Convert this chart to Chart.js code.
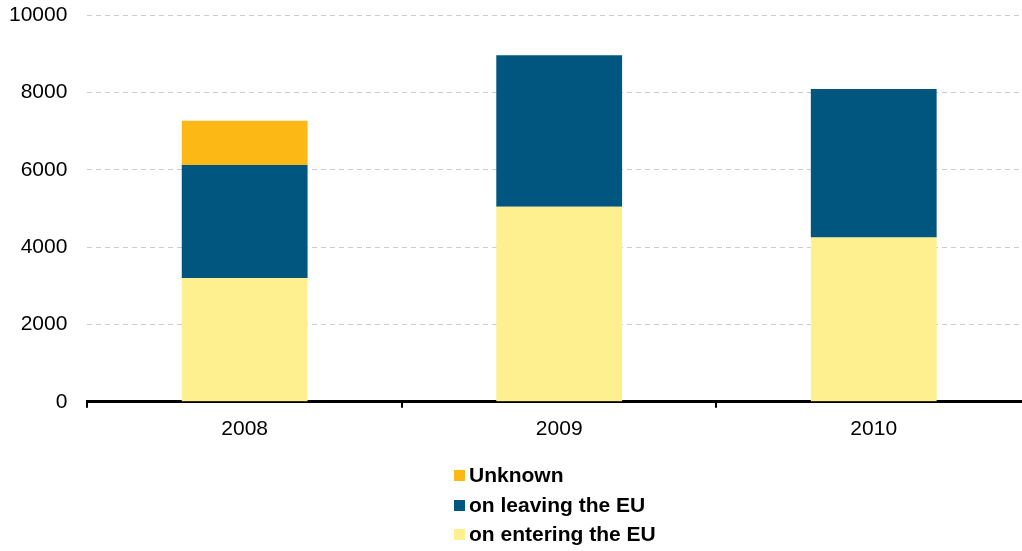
<!DOCTYPE html>
<html>
<head>
<meta charset="utf-8">
<script src="https://cdn.jsdelivr.net/npm/chart.js@4/dist/chart.umd.min.js"></script>
<style>
    body { margin: 0; overflow: hidden; background: #fff; }
    #wrap { position: relative; width: 1040px; height: 551px; }
    #legend { position: absolute; left: 454px; top: 462px; font-family: "Liberation Sans", Arial, sans-serif; font-weight: bold; font-size: 21px; color: #000; }
    #legend div { height: 29.5px; line-height: 26px; white-space: nowrap; }
    #legend span.box { display: inline-block; width: 11px; height: 11px; margin-right: 4px; vertical-align: 1px; }
</style>
</head>
<body>
<div id="wrap">
    <canvas id="myChart" width="1040" height="551"></canvas>
    <div id="legend"></div>
</div>
<script>
const years = ['2008', '2009', '2010'];

const entering = [3200, 5040, 4245];
const leaving = [2925, 3920, 3845];
const unknown = [1140, 0, 0];

const yTicks = [0, 2000, 4000, 6000, 8000, 10000];

const data = {
    labels: years,
    datasets: [{
            label: 'on entering the EU',
            backgroundColor: '#FFF08F',
            data: entering,
        },
        {
            label: 'on leaving the EU',
            backgroundColor: '#00567F',
            data: leaving,
        },
        {
            label: 'Unknown',
            backgroundColor: '#FCB814',
            data: unknown,
        }
    ]
};

const tickFont = { family: '"Liberation Sans", Arial, sans-serif', size: 21 };

const config = {
    type: 'bar',
    data: data,
    options: {
        responsive: false,
        animation: false,
        barPercentage: 0.4,
        categoryPercentage: 1,
        layout: {
            padding: { left: 9, right: 9, top: 15, bottom: 100 }
        },
        plugins: {
            legend: { display: false },
            tooltip: { enabled: false }
        },
        scales: {
            x: {
                stacked: true,
                grid: {
                    offset: true,
                    drawOnChartArea: false,
                    color: '#000',
                    lineWidth: 2,
                    tickLength: 6
                },
                border: { color: '#000', width: 3 },
                ticks: { color: '#000', font: tickFont, padding: 9 }
            },
            y: {
                stacked: true,
                min: 0,
                max: 10000,
                afterBuildTicks: function (axis) {
                    axis.ticks = yTicks.map(v => ({ value: v }));
                },
                grid: {
                    color: '#cccccc',
                    lineWidth: 1,
                    drawTicks: true,
                    tickLength: 20,
                    tickColor: 'rgba(0,0,0,0)'
                },
                border: { display: false, dash: [5, 4] },
                ticks: {
                    color: '#000',
                    font: tickFont,
                    padding: 0,
                    callback: function (value) {
                        return String(value);
                    }
                }
            }
        }
    }
};

var myChart = new Chart(
    document.getElementById('myChart'),
    config
);

// legend stacked vertically, top item = top of the stack
const legendDiv = document.getElementById('legend');
data.datasets.slice().reverse().forEach(function (ds) {
    const row = document.createElement('div');
    const box = document.createElement('span');
    box.className = 'box';
    box.style.background = ds.backgroundColor;
    row.appendChild(box);
    row.appendChild(document.createTextNode(ds.label));
    legendDiv.appendChild(row);
});
</script>
</body>
</html>
